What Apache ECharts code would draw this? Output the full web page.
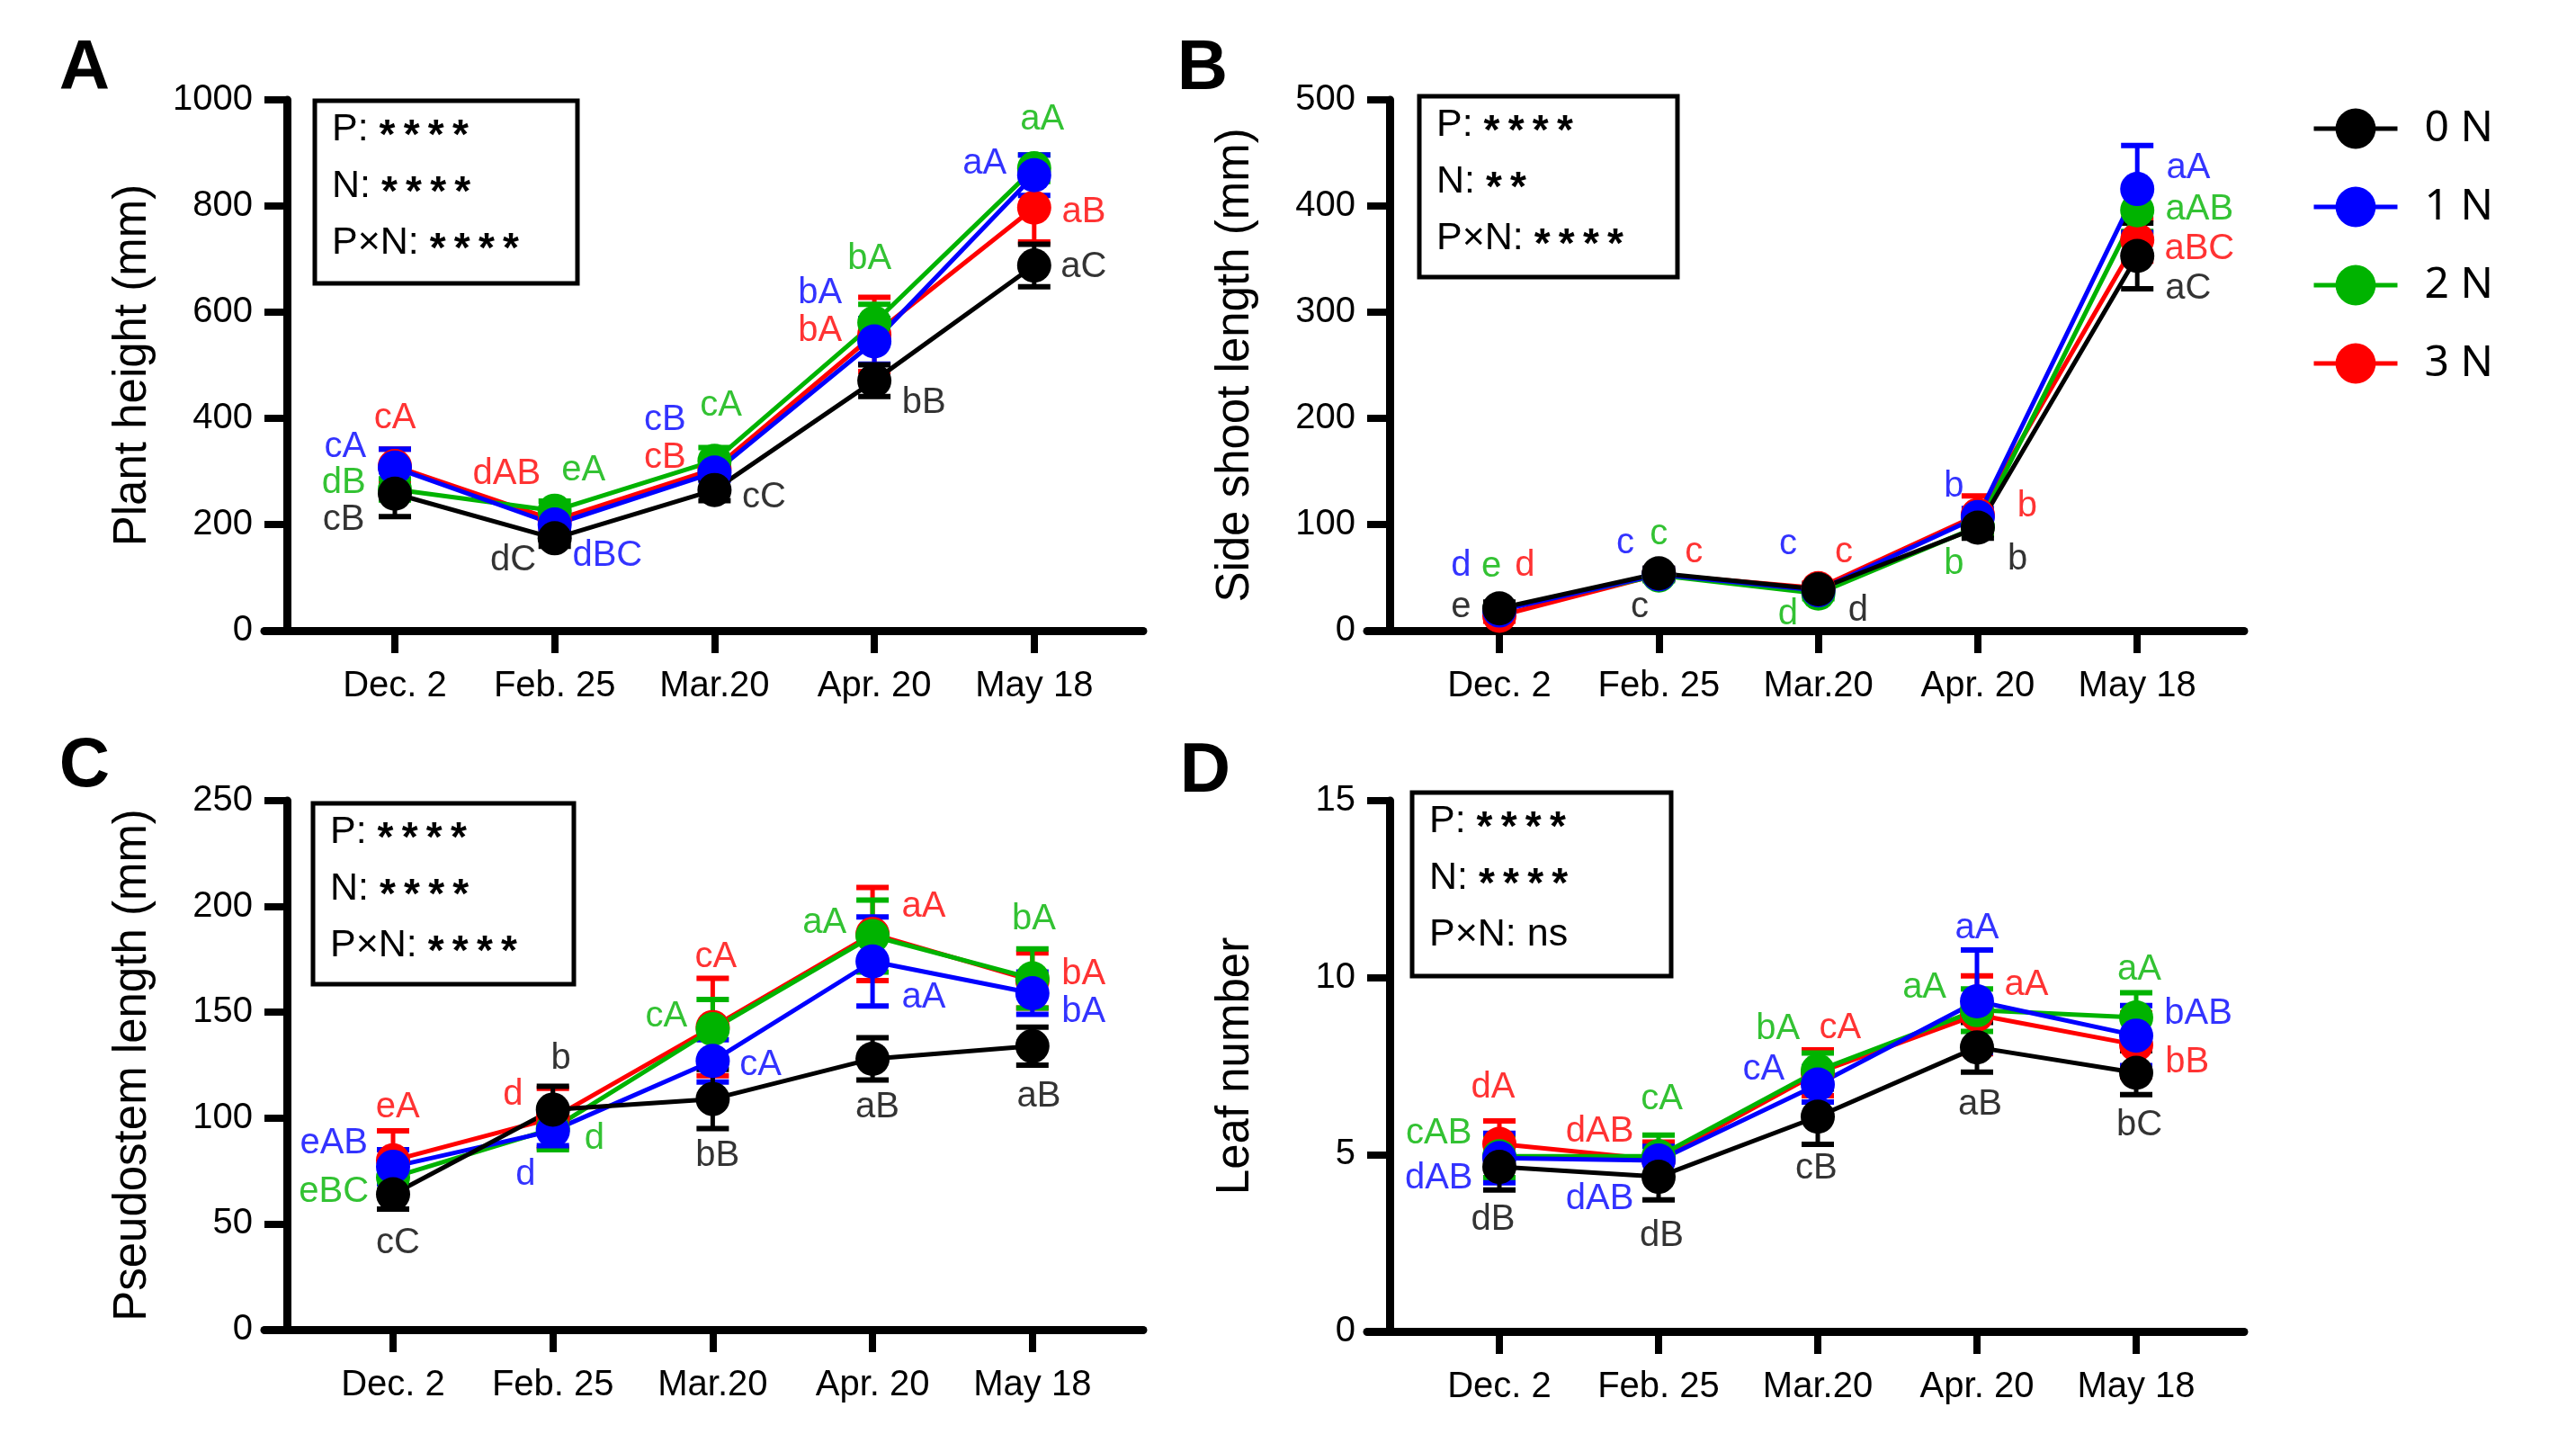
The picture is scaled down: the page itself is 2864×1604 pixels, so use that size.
<!DOCTYPE html>
<html>
<head>
<meta charset="utf-8">
<script src="https://cdn.jsdelivr.net/npm/echarts@6/dist/echarts.min.js"></script>
<style>
  html, body { margin: 0; background: #fff; }
  #chart { width: 2864px; height: 1604px; }
</style>
</head>
<body>
<div id="chart"></div>
<script>
// dates and treatment groups
const dates = ['Dec. 2', 'Feb. 25', 'Mar.20', 'Apr. 20', 'May 18'];
const groups = ['0 N', '1 N', '2 N', '3 N'];
const groupColors = ['#000000', '#0000ff', '#00b300', '#ff0000'];

// rows: 0 N, 1 N, 2 N, 3 N
const heightMean = [[258, 174, 265, 471, 688], [307, 200, 298, 545, 858], [266, 226, 320, 580, 871], [310, 208, 305, 558, 797]];
const heightSd = [[43, 15, 20, 30, 40], [35, 15, 15, 43, 38], [20, 18, 25, 35, 25], [32, 15, 15, 70, 65]];
const sideMean = [[21, 54, 39, 97, 353], [19, 53, 38, 107, 416], [20, 52, 35, 98, 396], [14, 53, 40, 109, 368]];
const sideSd = [[6, 5, 5, 10, 31], [5, 5, 5, 8, 41], [5, 5, 5, 8, 20], [5, 5, 5, 18, 20]];
const pseudoMean = [[64, 104, 109, 128, 134], [77, 94, 127, 174, 159], [72, 95, 142, 186, 166], [80, 100, 143, 187, 165]];
const pseudoSd = [[7, 11, 14, 10, 9], [8, 7, 10, 21, 10], [6, 10, 14, 17, 14], [14, 14, 23, 22, 13]];
const leafMean = [[4.65, 4.37, 6.07, 8.03, 7.31], [4.9, 4.83, 6.98, 9.33, 8.36], [4.95, 4.95, 7.37, 9.08, 8.87], [5.3, 4.85, 7.31, 8.95, 8.1]];
const leafSd = [[0.65, 0.65, 0.78, 0.7, 0.62], [0.7, 0.4, 0.5, 1.45, 0.85], [0.6, 0.6, 0.5, 0.6, 0.7], [0.65, 0.5, 0.65, 1.1, 0.9]];

// significance letters: [group, text, date position, value]
const heightLetters = [
  [3, 'cA', 0.0, 400], [1, 'cA', -0.31, 346], [2, 'dB', -0.32, 278], [0, 'cB', -0.32, 208],
  [3, 'dAB', 0.70, 295], [2, 'eA', 1.18, 302], [0, 'dC', 0.74, 132], [1, 'dBC', 1.33, 141],
  [1, 'cB', 1.69, 397], [2, 'cA', 2.04, 424], [3, 'cB', 1.69, 326], [0, 'cC', 2.31, 251],
  [1, 'bA', 2.66, 636], [3, 'bA', 2.66, 565], [2, 'bA', 2.97, 700], [0, 'bB', 3.31, 429],
  [2, 'aA', 4.05, 963], [1, 'aA', 3.69, 879], [3, 'aB', 4.31, 788], [0, 'aC', 4.31, 684]
];
const sideLetters = [
  [1, 'd', -0.24, 61], [2, 'e', -0.05, 60], [3, 'd', 0.16, 61], [0, 'e', -0.24, 22],
  [1, 'c', 0.79, 82], [2, 'c', 1.0, 91], [3, 'c', 1.22, 74], [0, 'c', 0.88, 22],
  [1, 'c', 1.81, 81], [3, 'c', 2.16, 74], [2, 'd', 1.81, 15], [0, 'd', 2.25, 19],
  [1, 'b', 2.85, 136], [3, 'b', 3.31, 117], [2, 'b', 2.85, 63], [0, 'b', 3.25, 67],
  [1, 'aA', 4.32, 436], [2, 'aAB', 4.39, 397], [3, 'aBC', 4.39, 359], [0, 'aC', 4.32, 322]
];
const pseudoLetters = [
  [3, 'eA', 0.03, 105], [1, 'eAB', -0.37, 88], [2, 'eBC', -0.37, 65], [0, 'cC', 0.03, 41],
  [0, 'b', 1.05, 128], [3, 'd', 0.75, 111], [2, 'd', 1.26, 90], [1, 'd', 0.83, 73],
  [3, 'cA', 2.02, 176], [2, 'cA', 1.71, 148], [1, 'cA', 2.30, 125], [0, 'bB', 2.03, 82],
  [2, 'aA', 2.70, 192], [3, 'aA', 3.32, 200], [1, 'aA', 3.32, 157], [0, 'aB', 3.03, 105],
  [2, 'bA', 4.01, 194], [3, 'bA', 4.32, 168], [1, 'bA', 4.32, 150], [0, 'aB', 4.04, 110]
];
const leafLetters = [
  [3, 'dA', -0.04, 6.88], [2, 'cAB', -0.38, 5.6], [1, 'dAB', -0.38, 4.33], [0, 'dB', -0.04, 3.15],
  [3, 'dAB', 0.63, 5.64], [2, 'cA', 1.02, 6.55], [1, 'dAB', 0.63, 3.74], [0, 'dB', 1.02, 2.69],
  [2, 'bA', 1.75, 8.55], [3, 'cA', 2.14, 8.58], [1, 'cA', 1.66, 7.4], [0, 'cB', 1.99, 4.61],
  [1, 'aA', 3.0, 11.38], [2, 'aA', 2.67, 9.7], [3, 'aA', 3.31, 9.8], [0, 'aB', 3.02, 6.42],
  [2, 'aA', 4.02, 10.22], [1, 'bAB', 4.39, 8.98], [3, 'bB', 4.32, 7.6], [0, 'bC', 4.02, 5.83]
];

// two-way ANOVA results per panel
const heightStats = [['P: ', '****'], ['N: ', '****'], ['P×N: ', '****']];
const sideStats = [['P: ', '****'], ['N: ', '**'], ['P×N: ', '****']];
const pseudoStats = [['P: ', '****'], ['N: ', '****'], ['P×N: ', '****']];
const leafStats = [['P: ', '****'], ['N: ', '****'], ['P×N: ', 'ns']];

const FONT = '"Liberation Sans", Arial, sans-serif';

// layout of each panel, in page pixels
const panels = [
  { tag: 'A', title: 'Plant height (mm)', max: 1000, step: 200, mean: heightMean, sd: heightSd, letters: heightLetters, stats: heightStats,
    axisX: 319, top: 111, bottom: 701, cat0: 439, gap: 177.7, right: 1271, box: [350, 112, 292, 203], tagPos: [94, 77] },
  { tag: 'B', title: 'Side shoot length (mm)', max: 500, step: 100, mean: sideMean, sd: sideSd, letters: sideLetters, stats: sideStats,
    axisX: 1545, top: 111, bottom: 701, cat0: 1667, gap: 177.3, right: 2495, box: [1578, 107, 287, 201], tagPos: [1337, 77] },
  { tag: 'C', title: 'Pseudostem length (mm)', max: 250, step: 50, mean: pseudoMean, sd: pseudoSd, letters: pseudoLetters, stats: pseudoStats,
    axisX: 319, top: 890, bottom: 1478, cat0: 437, gap: 177.7, right: 1271, box: [348, 893, 290, 201], tagPos: [94, 852] },
  { tag: 'D', title: 'Leaf number', max: 15, step: 5, mean: leafMean, sd: leafSd, letters: leafLetters, stats: leafStats,
    axisX: 1545, top: 890, bottom: 1480, cat0: 1667, gap: 177.0, right: 2495, box: [1570, 881, 288, 204], tagPos: [1340, 858] }
];

const TICK = 25;
const grids = [], xAxes = [], yAxes = [], series = [], graphics = [];

panels.forEach(function (p, k) {
  const left = p.axisX - TICK;
  grids.push({ left: left, top: p.top, width: p.right - left, height: p.bottom - p.top });
  xAxes.push({
    gridIndex: k, type: 'value',
    min: -(p.cat0 - left) / p.gap, max: (p.right - p.cat0) / p.gap,
    splitLine: { show: false },
    axisLine: { onZero: false, lineStyle: { color: '#000', width: 9 } },
    axisTick: { customValues: [0, 1, 2, 3, 4], length: TICK, lineStyle: { color: '#000', width: 8 } },
    axisLabel: {
      customValues: [0, 1, 2, 3, 4], margin: 42, color: '#000', fontSize: 40, fontFamily: FONT,
      formatter: function (v) { return dates[Math.round(v)]; }
    }
  });
  yAxes.push({
    gridIndex: k, type: 'value', min: 0, max: p.max, interval: p.step, offset: -TICK,
    name: p.title, nameLocation: 'middle', nameGap: 146,
    nameTextStyle: { color: '#000', fontSize: 51, fontFamily: FONT },
    splitLine: { show: false },
    axisLine: { show: true, onZero: false, lineStyle: { color: '#000', width: 9 } },
    axisTick: { show: true, length: TICK, lineStyle: { color: '#000', width: 8 } },
    axisLabel: {
      margin: 38, color: '#000', fontSize: 40, fontFamily: FONT,
      formatter: function (v) { return String(v); }
    }
  });

  // draw 3 N first so 0 N ends up on top
  [3, 2, 1, 0].forEach(function (g) {
    const color = groupColors[g];
    series.push({
      type: 'custom', name: 'sd' + k + g, xAxisIndex: k, yAxisIndex: k, silent: true,
      data: p.mean[g].map(function (m, i) { return [i, m - p.sd[g][i], m + p.sd[g][i]]; }),
      encode: { x: 0, y: [1, 2] },
      renderItem: function (params, api) {
        const hi = api.coord([api.value(0), api.value(2)]);
        const lo = api.coord([api.value(0), api.value(1)]);
        const w = 18;
        return {
          type: 'group', children: [
            { type: 'line', shape: { x1: hi[0], y1: hi[1], x2: lo[0], y2: lo[1] }, style: { stroke: color, lineWidth: 5 } },
            { type: 'line', shape: { x1: hi[0] - w, y1: hi[1], x2: hi[0] + w, y2: hi[1] }, style: { stroke: color, lineWidth: 6 } },
            { type: 'line', shape: { x1: lo[0] - w, y1: lo[1], x2: lo[0] + w, y2: lo[1] }, style: { stroke: color, lineWidth: 6 } }
          ]
        };
      }
    });
    series.push({
      type: 'line', name: groups[g], xAxisIndex: k, yAxisIndex: k, silent: true,
      data: p.mean[g].map(function (m, i) { return [i, m]; }),
      symbol: 'circle', symbolSize: 38,
      itemStyle: { color: color },
      lineStyle: { color: color, width: 5 }
    });
  });

  series.push({
    type: 'scatter', name: 'letters' + k, xAxisIndex: k, yAxisIndex: k, silent: true,
    symbolSize: 0, itemStyle: { color: 'transparent' },
    data: p.letters.map(function (a) {
      return { value: [a[2], a[3]], t: a[1], label: { color: groupColors[a[0]] } };
    }),
    label: {
      show: true, position: 'inside', fontSize: 40, fontFamily: FONT,
      formatter: function (q) { return q.data.t; }
    },
    z: 5
  });

  // panel letter
  graphics.push({
    type: 'text', x: p.tagPos[0], y: p.tagPos[1],
    style: { text: p.tag, font: 'bold 78px ' + FONT, fill: '#000', align: 'center', verticalAlign: 'middle' }
  });
  // statistics box
  const b = p.box;
  graphics.push({
    type: 'rect', shape: { x: b[0], y: b[1], width: b[2], height: b[3] },
    style: { fill: 'none', stroke: '#000', lineWidth: 5 }
  });
  p.stats.forEach(function (s, j) {
    const stars = s[1] !== 'ns';
    graphics.push({
      type: 'text', x: b[0] + 19, y: b[1] + 32 + j * 63,
      style: {
        text: '{a|' + s[0] + '}{b|' + (stars ? s[1].split('').join('\u2009') : s[1]) + '}', verticalAlign: 'middle',
        rich: {
          a: { fontSize: 43, fontFamily: FONT, fill: '#000' },
          b: stars
            ? { fontSize: 46, fontFamily: FONT, fontWeight: 'bold', fill: '#000', padding: [16, 0, 0, 0] }
            : { fontSize: 43, fontFamily: FONT, fill: '#000' }
        }
      }
    });
  });
});

const chart = echarts.init(document.getElementById('chart'));
chart.setOption({
  animation: false,
  backgroundColor: '#fff',
  grid: grids,
  xAxis: xAxes,
  yAxis: yAxes,
  legend: {
    data: groups, orient: 'vertical', left: 2565, top: 114,
    itemWidth: 93, itemHeight: 56, itemGap: 39, selectedMode: false,
    lineStyle: { width: 5 },
    textStyle: { color: '#000', fontSize: 48, fontFamily: 'Noto Sans', padding: [0, 0, 0, 25] }
  },
  graphic: graphics,
  series: series
});
</script>
</body>
</html>
